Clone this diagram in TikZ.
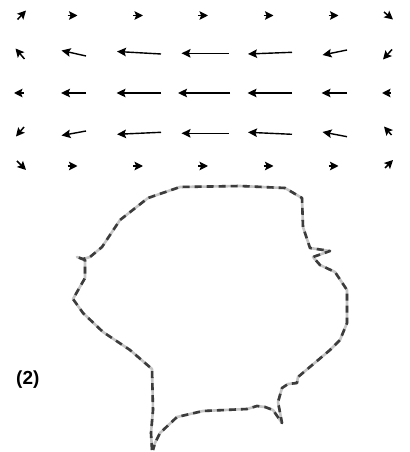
\documentclass[tikz,border=0pt]{standalone}
\usepackage{fontspec}
\setmainfont{Liberation Sans}
\usetikzlibrary{arrows.meta}
\definecolor{lightline}{HTML}{C4C4C4}
\definecolor{darkdash}{HTML}{3C3C3C}
\begin{document}
\begin{tikzpicture}[x=1bp,y=-1bp,
  qarrow/.style={-{Stealth[length=9bp,width=8.5bp,inset=1.6bp]},line width=1.4bp,black},
  qsmall/.style={-{Stealth[length=8.5bp,width=8.5bp,inset=1.6bp]},line width=1.5bp,black},
  baseline/.style={line width=2.6bp,lightline,line join=round},
  dashline/.style={line width=2.6bp,darkdash,dash pattern=on 7bp off 5bp,line join=round}]
\useasboundingbox (0,0) rectangle (409,452);
% row 1
\draw[qsmall] (17.5,19.5) -- (26,10.5);
\foreach \x in {72.5,138,203,268.5,333.5} \draw[qsmall] (\x-5,15.5) -- (\x+5,15.5);
\draw[qsmall] (384,12) -- (393,19.5);
% row 2
\draw[qsmall] (24.5,59) -- (15.5,48.5);
\draw[qarrow] (86,56) -- (61.5,50.5);
\draw[qarrow] (161,54) -- (117,51.5);
\draw[qarrow] (228.5,53.3) -- (181.5,53.3);
\draw[qarrow] (292,52.3) -- (248,54);
\draw[qarrow] (347,50) -- (322.5,55);
\draw[qsmall] (392,49.5) -- (383,59.5);
% row 3
\draw[qsmall] (23.5,93) -- (14,93);
\draw[qarrow] (86,93) -- (61,93);
\draw[qarrow] (161,93) -- (116.5,93);
\draw[qarrow] (230,93) -- (178,93);
\draw[qarrow] (292,93) -- (247.5,93);
\draw[qarrow] (347,93) -- (321.5,93);
\draw[qsmall] (390.5,93) -- (382,93);
% row 4
\draw[qsmall] (24,127) -- (16,136.5);
\draw[qarrow] (86,131) -- (61.5,135.5);
\draw[qarrow] (161,132.3) -- (117,134.3);
\draw[qarrow] (228.5,133.3) -- (181.5,133.3);
\draw[qarrow] (292,134.3) -- (248,132.3);
\draw[qarrow] (347,136.7) -- (322.5,132);
\draw[qsmall] (391.5,135) -- (384,126.5);
% row 5
\draw[qsmall] (17,161) -- (26,170);
\foreach \x in {72.5,138,203,268.5,333.5} \draw[qsmall] (\x-5,166) -- (\x+5,166);
\draw[qsmall] (385,168) -- (393,160);
% outline
\def\outline{(152,450) -- (151,433) -- (153,410) -- (152,369) -- (130,350) -- (103,332) -- (83,313) -- (73,299) -- (85,278) -- (85,260) -- (77,257) -- (83,259) -- (90,257) -- (102,247) -- (120,220) -- (148,198) -- (180,187) -- (240,186) -- (285,188) -- (302,198) -- (303,227) -- (310,248) -- (330,251) -- (313,257) -- (320,265) -- (335,272) -- (347,290) -- (347,323) -- (340,340) -- (330,350) -- (298,377) -- (297,383) -- (288,384) -- (282,388) -- (278,402) -- (282,423) -- (273,410) -- (265,407) -- (257,406) -- (247,409) -- (203,411) -- (177,417) -- (160,433) -- (155,443) -- (153,450)}
\draw[baseline] \outline;
\draw[dashline] \outline;
\node[font=\bfseries\fontsize{19}{22}\selectfont,anchor=base] (lbl) at (27.8,384.6) {(2)};
\end{tikzpicture}
\end{document}
